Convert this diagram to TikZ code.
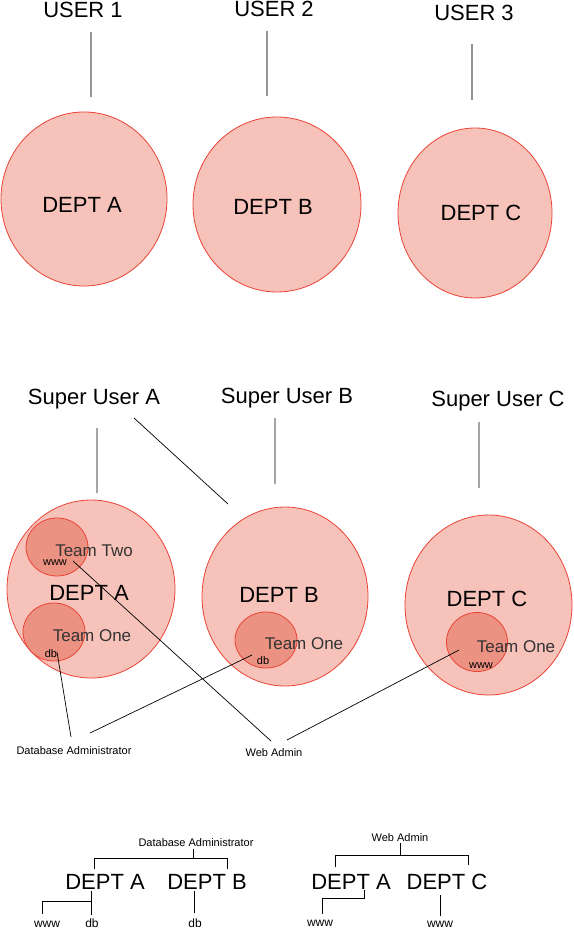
\documentclass[tikz,border=0pt]{standalone}
\usepackage{fontspec}
\setmainfont{Liberation Sans}
\usepackage{xcolor}
\usetikzlibrary{shapes.geometric}

\definecolor{deptfill}{RGB}{246,194,186}
\definecolor{deptline}{RGB}{234,67,53}
\definecolor{teamfill}{RGB}{236,146,130}
\definecolor{teamtext}{RGB}{51,51,51}
\definecolor{usergray}{RGB}{150,150,150}

\tikzset{
  dept/.style={ellipse, draw=deptline, fill=deptfill, line width=0.8pt, inner sep=0pt},
  team/.style={ellipse, draw=deptline, fill=teamfill, line width=0.8pt, inner sep=0pt},
  big/.style={font=\fontsize{22}{26}\selectfont, anchor=base, inner sep=0pt},
  teamlbl/.style={font=\fontsize{17}{20}\selectfont, text=teamtext, anchor=base, inner sep=0pt},
  small/.style={font=\fontsize{11}{13}\selectfont, anchor=base, inner sep=0pt},
  smallb/.style={font=\fontsize{12}{14}\selectfont, anchor=base, inner sep=0pt},
  wire/.style={line width=0.7pt},
  userline/.style={draw=usergray, line width=1.2pt}
}

\begin{document}
\begin{tikzpicture}[x=1pt, y=-1pt]
\useasboundingbox (0,0) rectangle (573,928);
% top row
\node[dept, minimum width=166, minimum height=174] (ca) at (84,199) {};
\node[dept, minimum width=168, minimum height=175] (cb) at (277,204.5) {};
\node[dept, minimum width=154, minimum height=170] (cc) at (475,213) {};
\node[big] (u1) at (83,18) {USER 1};
\node[big] (u2) at (274,17) {USER 2};
\node[big] (u3) at (474,21) {USER 3};
\node[big] (da) at (82,212) {DEPT A};
\node[big] (db) at (273,214) {DEPT B};
\node[big] (dc) at (481,220) {DEPT C};
\coordinate (l1a) at (91,32);
\coordinate (l1b) at (91,97);
\coordinate (l2a) at (267,31);
\coordinate (l2b) at (267,96);
\coordinate (l3a) at (472,44);
\coordinate (l3b) at (472,100);
\draw[userline]
(l1a) -- (l1b)
(l2a) -- (l2b)
(l3a) -- (l3b);
% middle row
\node[dept, minimum width=168, minimum height=178] (ca2) at (91,589) {};
\node[dept, minimum width=166, minimum height=179] (cb2) at (285,596.5) {};
\node[dept, minimum width=167, minimum height=180] (cc2) at (488.5,605) {};
\node[team, minimum width=62, minimum height=58] (tta) at (57,547) {};
\node[team, minimum width=62, minimum height=58] (toa) at (54,632) {};
\node[team, minimum width=62, minimum height=56] (tob) at (266,640) {};
\node[team, minimum width=61, minimum height=59] (toc) at (477,642) {};
\node[big] (sua) at (94,404) {Super User A};
\node[big] (sub) at (287,403) {Super User B};
\node[big] (suc) at (498,406) {Super User C};
\node[big] (da2) at (89,600) {DEPT A};
\node[big] (db2) at (279,602) {DEPT B};
\node[big] (dc2) at (487,606) {DEPT C};
\node[teamlbl] (ttal) at (94,556) {Team Two};
\node[teamlbl] (toal) at (92,641) {Team One};
\node[teamlbl] (tobl) at (304,649) {Team One};
\node[teamlbl] (tocl) at (516,652) {Team One};
\node[small] (wwwa) at (55,565) {www};
\node[small] (dba) at (51,657) {db};
\node[small] (dbb) at (263,664) {db};
\node[small] (wwwc) at (481,668) {www};
\node[small] (dbadm) at (74,754) {Database Administrator};
\node[small] (wadm) at (274,756) {Web Admin};
\coordinate (s1a) at (97,428);
\coordinate (s1b) at (97,493);
\coordinate (s2a) at (134,418);
\coordinate (s2b) at (228,504);
\coordinate (s3a) at (275,418);
\coordinate (s3b) at (275,484);
\coordinate (s4a) at (479,422);
\coordinate (s4b) at (479,488);
\coordinate (w1) at (73,561);
\coordinate (w2) at (271,741);
\coordinate (w3) at (287,740);
\coordinate (w4) at (459,650);
\coordinate (d1) at (57,652);
\coordinate (d2) at (71,737);
\coordinate (d3) at (90,733);
\coordinate (d4) at (252,655);
\draw[wire]
(s1a) -- (s1b)
(s2a) -- (s2b)
(s3a) -- (s3b)
(s4a) -- (s4b)
(w1) -- (w2)
(w3) -- (w4)
(d1) -- (d2)
(d3) -- (d4);
% bottom trees
\node[small] (dbadm2) at (196,846) {Database Administrator};
\node[big] (da3) at (105,889) {DEPT A};
\node[big] (db3) at (207,889) {DEPT B};
\node[smallb] (www3) at (47,927) {www};
\node[smallb] (db3a) at (92,927) {db};
\node[smallb] (db3b) at (195,927) {db};
\node[small] (wadm2) at (400,841) {Web Admin};
\node[big] (da4) at (351,889) {DEPT A};
\node[big] (dc4) at (447,889) {DEPT C};
\node[smallb] (www4) at (320,926) {www};
\node[smallb] (www5) at (440,927) {www};
\coordinate (t1) at (193,849);
\coordinate (t2) at (193,858);
\coordinate (t3) at (94,869);
\coordinate (t4) at (227,869);
\coordinate (t5) at (91,891);
\coordinate (t6) at (91,915);
\coordinate (t7) at (42,914);
\coordinate (t8) at (91,901);
\coordinate (t9) at (194,891);
\coordinate (t10) at (194,913);
\coordinate (r1) at (400,843);
\coordinate (r2) at (400,855);
\coordinate (r3) at (335,867);
\coordinate (r4) at (468,865);
\coordinate (r5) at (364,890);
\coordinate (r6) at (322,914);
\coordinate (r7) at (322,898);
\coordinate (r8) at (440,895);
\coordinate (r9) at (440,916);
\draw[wire]
(t1) -- (t2)
(t3) |- (t2) -| (t4)
(t5) -- (t6)
(t7) |- (t8)
(t9) -- (t10)
(r1) -- (r2)
(r3) |- (r2) -| (r4)
(r5) |- (r7) -- (r6)
(r8) -- (r9);
\end{tikzpicture}
\end{document}
